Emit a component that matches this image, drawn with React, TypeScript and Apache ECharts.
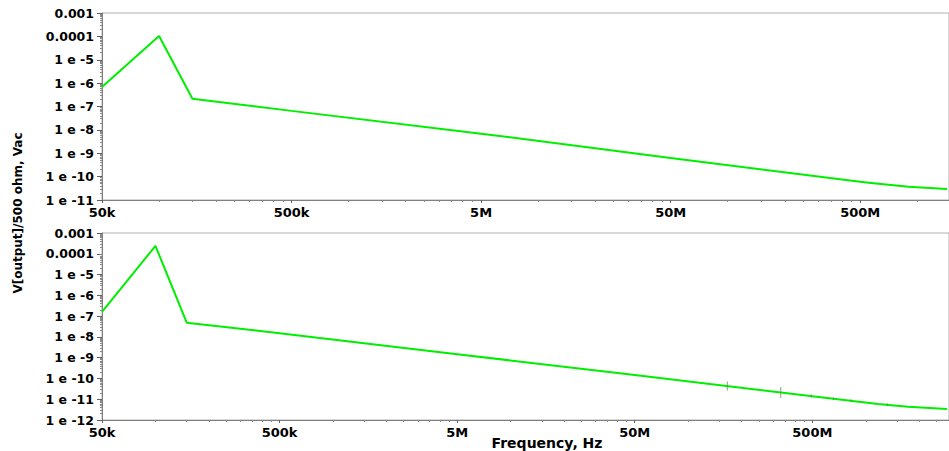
import React, { useEffect, useRef } from "react";
import * as echarts from "echarts";

// ---- data ----
const topFreq = [5e4, 1e5, 1.5e5, 5e5, 5e6, 5e7, 5e8, 5.7e8, 9e8, 1.435e9];
const topVal = [6.8e-7, 1.04e-4, 2.15e-7, 6.5e-8, 6.9e-9, 6.3e-10, 6.0e-11, 5.4e-11, 3.7e-11, 2.96e-11];

const botFreq = [5e4, 1e5, 1.5e5, 5e5, 5e6, 5e7, 5e8, 1.17e9, 1.73e9, 2.865e9];
const botVal = [1.6e-7, 2.4e-4, 4.8e-8, 1.5e-8, 1.47e-9, 1.47e-10, 1.4e-11, 5.9e-12, 4.4e-12, 3.4e-12];

const markerFreq = [1.66e8, 3.32e8, 4.95e8, 6.56e8, 8.25e8, 1.32e9];
const markerVal = [4.3e-11, 2.13e-11, 1.41e-11, 1.06e-11, 8.4e-12, 5.4e-12];

const xTickFreqs = [5e4, 5e5, 5e6, 5e7, 5e8];
const topYExp = [-3, -4, -5, -6, -7, -8, -9, -10, -11];
const botYExp = [-3, -4, -5, -6, -7, -8, -9, -10, -11, -12];

const yAxisTitle = "V[output]/500 ohm, Vac";
const xAxisTitle = "Frequency, Hz";

// ---- helpers ----
const L = Math.log10;
const FONT = "DejaVu Sans";
const GREEN = "#00ee00";

const xMajor = xTickFreqs.map(L);
const xMinor: number[] = [];
for (let d = 4; d <= 9; d++) {
  for (let k = 2; k <= 9; k++) xMinor.push(L(5 * k * Math.pow(10, d)));
}
const yMinorFor = (lo: number, hi: number) => {
  const out: number[] = [];
  for (let e = lo; e < hi; e++) for (let k = 2; k <= 9; k++) out.push(e + L(k));
  return out;
};

const xFmt = (v: number) => {
  const f = Math.pow(10, v);
  if (f >= 1e6) return Math.round(f / 1e6) + "M";
  return Math.round(f / 1e3) + "k";
};
const yFmt = (v: number) => {
  const n = Math.round(v);
  if (n === -3) return "0.001";
  if (n === -4) return "0.0001";
  return "1 e " + n;
};

const AXIS_COLOR = "#808080";

function xAxes(gridIndex: number, min: number, max: number) {
  const minor = xMinor.filter((v) => v > min && v < max);
  return [
    {
      type: "value",
      gridIndex,
      min,
      max,
      position: "bottom",
      axisLine: { show: true, lineStyle: { color: AXIS_COLOR, width: 1 } },
      axisTick: { show: true, length: 3, customValues: xMajor, lineStyle: { color: "#606060" } },
      axisLabel: {
        customValues: xMajor,
        formatter: xFmt,
        margin: 6,
        fontFamily: FONT,
        fontWeight: "bold",
        fontSize: 13,
        color: "#000",
      },
      splitLine: { show: false },
    },
    {
      type: "value",
      gridIndex,
      min,
      max,
      position: "bottom",
      axisLine: { show: false },
      axisTick: { show: true, length: 2, customValues: minor, lineStyle: { color: "#8a8a8a" } },
      axisLabel: { show: false },
      splitLine: { show: false },
    },
  ];
}

function yAxes(gridIndex: number, exps: number[]) {
  const min = Math.min(...exps);
  const max = Math.max(...exps);
  return [
    {
      type: "value",
      gridIndex,
      min,
      max,
      position: "left",
      axisLine: { show: true, lineStyle: { color: AXIS_COLOR, width: 1 } },
      axisTick: { show: true, length: 5, customValues: exps, lineStyle: { color: "#606060" } },
      axisLabel: {
        customValues: exps,
        formatter: yFmt,
        margin: 8,
        fontFamily: FONT,
        fontWeight: "bold",
        fontSize: 12.5,
        color: "#000",
      },
      splitLine: { show: false },
    },
    {
      type: "value",
      gridIndex,
      min,
      max,
      position: "left",
      axisLine: { show: false },
      axisTick: { show: true, length: 2, customValues: yMinorFor(min, max), lineStyle: { color: "#8a8a8a" } },
      axisLabel: { show: false },
      splitLine: { show: false },
    },
  ];
}

const toPairs = (fs: number[], vs: number[]) => fs.map((f, i) => [L(f), L(vs[i])]);

export default function App() {
  const ref = useRef<HTMLDivElement>(null);
  useEffect(() => {
    if (!ref.current) return;
    const chart = echarts.init(ref.current, undefined, { renderer: "svg" });
    const x0 = L(5e4);
    const topMax = x0 + 849 / 190;
    const botMax = x0 + 849 / 178;
    const markerHeights = [9, 11, 3, 3, 3, 3];
    chart.setOption({
      animation: false,
      backgroundColor: "#ffffff",
      grid: [
        { left: 102, top: 13, width: 849, height: 187, show: true, borderColor: "#b0b0b0", borderWidth: 1, backgroundColor: "transparent" },
        { left: 102, top: 233, width: 849, height: 187, show: true, borderColor: "#b0b0b0", borderWidth: 1, backgroundColor: "transparent" },
      ],
      xAxis: [...xAxes(0, x0, topMax), ...xAxes(1, x0, botMax)],
      yAxis: [...yAxes(0, topYExp), ...yAxes(1, botYExp)],
      series: [
        {
          type: "line",
          xAxisIndex: 0,
          yAxisIndex: 0,
          data: toPairs(topFreq, topVal),
          showSymbol: false,
          lineStyle: { color: GREEN, width: 2 },
          clip: true,
        },
        {
          type: "line",
          xAxisIndex: 2,
          yAxisIndex: 2,
          data: toPairs(botFreq, botVal),
          showSymbol: false,
          lineStyle: { color: GREEN, width: 2 },
          clip: true,
        },
        {
          type: "scatter",
          xAxisIndex: 2,
          yAxisIndex: 2,
          data: toPairs(markerFreq, markerVal).map((p, i) => ({
            value: p,
            symbolSize: [1, markerHeights[i]],
          })),
          symbol: "rect",
          itemStyle: { color: "#5f8f5f" },
          z: 5,
        },
      ],
      graphic: [
        {
          type: "text",
          x: 18,
          y: 213,
          rotation: Math.PI / 2,
          style: {
            text: yAxisTitle,
            fontFamily: FONT,
            fontWeight: "bold",
            fontSize: 12,
            fill: "#000",
            align: "center",
            verticalAlign: "middle",
          },
        },
        {
          type: "text",
          x: 547,
          y: 443,
          style: {
            text: xAxisTitle,
            fontFamily: FONT,
            fontWeight: "bold",
            fontSize: 14,
            fill: "#000",
            align: "center",
            verticalAlign: "middle",
          },
        },
      ],
    });
    return () => chart.dispose();
  }, []);
  return (
    <div
      ref={ref}
      style={{ position: "absolute", left: 0, top: 0, width: 949, height: 451, background: "#fff" }}
    />
  );
}
